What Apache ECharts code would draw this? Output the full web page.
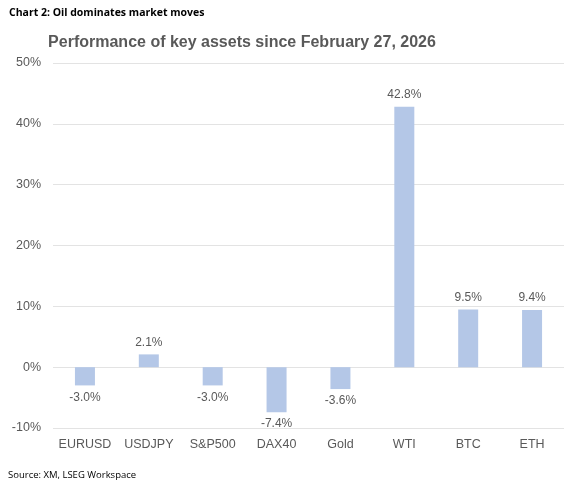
<!DOCTYPE html>
<html lang="en">
<head>
    <meta charset="UTF-8">
    <title>Oil dominates market moves</title>
    <script src="https://cdn.jsdelivr.net/npm/echarts@6/dist/echarts.min.js"></script>
    <style>
        html, body { margin: 0; padding: 0; background: #fff; }
        #chart1 { width: 568px; height: 481px; }
    </style>
</head>
<body>
    <div id="chart1"></div>
</body>
<script type="text/javascript">
    // assets and % change since Feb 27, 2026
    var assets = ['EURUSD', 'USDJPY', 'S&P500', 'DAX40', 'Gold', 'WTI', 'BTC', 'ETH'];
    var perf = [-3.0, 2.1, -3.0, -7.4, -3.6, 42.8, 9.5, 9.4];
    var yTicks = [-10, 0, 10, 20, 30, 40, 50];

    var chart = echarts.init(document.getElementById('chart1'));

    // negative bars get their label below the bar
    var barData = perf.map(function (v) {
        return {
            value: v,
            label: { position: v < 0 ? 'bottom' : 'top', distance: 6 }
        };
    });

    var option = {
        animation: false,
        textStyle: { fontFamily: 'Liberation Sans, Arial, sans-serif' },
        title: [
            {
                text: 'Chart 2: Oil dominates market moves',
                left: 4, top: 3,
                textStyle: { fontFamily: 'Open Sans', fontSize: 10.5, fontWeight: 'bold', color: '#000' }
            },
            {
                text: 'Performance of key assets since February 27, 2026',
                left: 237, top: 30, textAlign: 'center',
                textStyle: { fontSize: 16, fontWeight: 'bold', color: '#595959' }
            },
            {
                text: 'Source: XM, LSEG Workspace',
                left: 3, top: 465,
                textStyle: { fontFamily: 'Open Sans', fontSize: 9.5, fontWeight: 'normal', color: '#000' }
            }
        ],
        grid: { left: 53, right: 4, top: 63, height: 365, containLabel: false },
        xAxis: {
            type: 'category',
            data: assets,
            position: 'bottom',
            axisLine: { show: false },
            axisTick: { show: false },
            axisLabel: { color: '#595959', fontSize: 12.5, margin: 10, interval: 0 }
        },
        yAxis: {
            type: 'value',
            min: yTicks[0],
            max: yTicks[yTicks.length - 1],
            interval: 10,
            axisLine: { show: false },
            axisTick: { show: false },
            splitLine: { lineStyle: { color: '#e3e3e3', width: 1 } },
            axisLabel: {
                color: '#595959', fontSize: 12.5, margin: 12,
                formatter: function (v) { return v + '%'; }
            }
        },
        series: [{
            type: 'bar',
            data: barData,
            barWidth: 20,
            itemStyle: { color: '#b4c7e7' },
            label: {
                show: true,
                color: '#595959',
                fontSize: 12,
                formatter: function (p) { return p.value.toFixed(1) + '%'; }
            }
        }]
    };

    chart.setOption(option);
</script>
</html>
